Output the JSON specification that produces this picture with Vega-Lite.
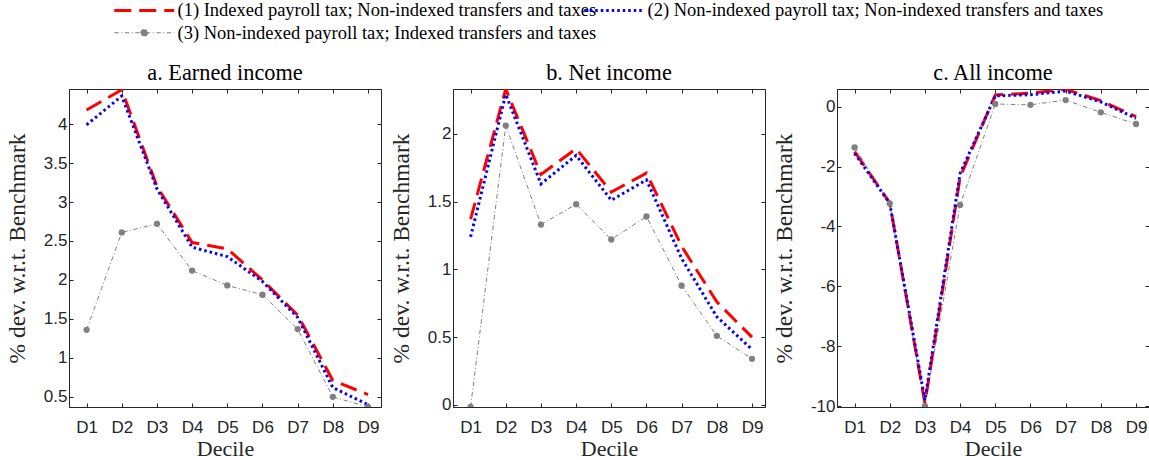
{
  "$schema": "https://vega.github.io/schema/vega-lite/v6.json",
  "padding": {"left": 4, "top": 1, "right": 1, "bottom": 2},
  "background": "white",
  "datasets": {
    "d": [
      {"p":"a","d":1,"s":"s1","v":4.18},{"p":"a","d":2,"s":"s1","v":4.44},{"p":"a","d":3,"s":"s1","v":3.20},{"p":"a","d":4,"s":"s1","v":2.48},{"p":"a","d":5,"s":"s1","v":2.40},{"p":"a","d":6,"s":"s1","v":2.00},{"p":"a","d":7,"s":"s1","v":1.55},{"p":"a","d":8,"s":"s1","v":0.71},{"p":"a","d":9,"s":"s1","v":0.53},
      {"p":"a","d":1,"s":"s2","v":3.99},{"p":"a","d":2,"s":"s2","v":4.36},{"p":"a","d":3,"s":"s2","v":3.17},{"p":"a","d":4,"s":"s2","v":2.42},{"p":"a","d":5,"s":"s2","v":2.30},{"p":"a","d":6,"s":"s2","v":1.98},{"p":"a","d":7,"s":"s2","v":1.52},{"p":"a","d":8,"s":"s2","v":0.62},{"p":"a","d":9,"s":"s2","v":0.40},
      {"p":"a","d":1,"s":"s3","v":1.36},{"p":"a","d":2,"s":"s3","v":2.61},{"p":"a","d":3,"s":"s3","v":2.72},{"p":"a","d":4,"s":"s3","v":2.12},{"p":"a","d":5,"s":"s3","v":1.93},{"p":"a","d":6,"s":"s3","v":1.81},{"p":"a","d":7,"s":"s3","v":1.37},{"p":"a","d":8,"s":"s3","v":0.50},{"p":"a","d":9,"s":"s3","v":0.37},
      {"p":"b","d":1,"s":"s1","v":1.37},{"p":"b","d":2,"s":"s1","v":2.33},{"p":"b","d":3,"s":"s1","v":1.70},{"p":"b","d":4,"s":"s1","v":1.89},{"p":"b","d":5,"s":"s1","v":1.57},{"p":"b","d":6,"s":"s1","v":1.71},{"p":"b","d":7,"s":"s1","v":1.17},{"p":"b","d":8,"s":"s1","v":0.76},{"p":"b","d":9,"s":"s1","v":0.50},
      {"p":"b","d":1,"s":"s2","v":1.24},{"p":"b","d":2,"s":"s2","v":2.29},{"p":"b","d":3,"s":"s2","v":1.63},{"p":"b","d":4,"s":"s2","v":1.84},{"p":"b","d":5,"s":"s2","v":1.51},{"p":"b","d":6,"s":"s2","v":1.66},{"p":"b","d":7,"s":"s2","v":1.08},{"p":"b","d":8,"s":"s2","v":0.65},{"p":"b","d":9,"s":"s2","v":0.41},
      {"p":"b","d":1,"s":"s3","v":-0.015},{"p":"b","d":2,"s":"s3","v":2.06},{"p":"b","d":3,"s":"s3","v":1.33},{"p":"b","d":4,"s":"s3","v":1.48},{"p":"b","d":5,"s":"s3","v":1.22},{"p":"b","d":6,"s":"s3","v":1.39},{"p":"b","d":7,"s":"s3","v":0.88},{"p":"b","d":8,"s":"s3","v":0.51},{"p":"b","d":9,"s":"s3","v":0.34},
      {"p":"c","d":1,"s":"s1","v":-1.50},{"p":"c","d":2,"s":"s1","v":-3.21},{"p":"c","d":3,"s":"s1","v":-9.91},{"p":"c","d":4,"s":"s1","v":-2.35},{"p":"c","d":5,"s":"s1","v":0.39},{"p":"c","d":6,"s":"s1","v":0.45},{"p":"c","d":7,"s":"s1","v":0.58},{"p":"c","d":8,"s":"s1","v":0.20},{"p":"c","d":9,"s":"s1","v":-0.33},
      {"p":"c","d":1,"s":"s2","v":-1.56},{"p":"c","d":2,"s":"s2","v":-3.23},{"p":"c","d":3,"s":"s2","v":-9.80},{"p":"c","d":4,"s":"s2","v":-2.23},{"p":"c","d":5,"s":"s2","v":0.36},{"p":"c","d":6,"s":"s2","v":0.40},{"p":"c","d":7,"s":"s2","v":0.52},{"p":"c","d":8,"s":"s2","v":0.16},{"p":"c","d":9,"s":"s2","v":-0.39},
      {"p":"c","d":1,"s":"s3","v":-1.36},{"p":"c","d":2,"s":"s3","v":-3.23},{"p":"c","d":3,"s":"s3","v":-10.0},{"p":"c","d":4,"s":"s3","v":-3.28},{"p":"c","d":5,"s":"s3","v":0.09},{"p":"c","d":6,"s":"s3","v":0.06},{"p":"c","d":7,"s":"s3","v":0.22},{"p":"c","d":8,"s":"s3","v":-0.19},{"p":"c","d":9,"s":"s3","v":-0.58}
    ]
  },
  "data": {"name": "d"},
  "spacing": 72,
  "bounds": "flush",
  "hconcat": [
    {
      "width": 312, "height": 318,
      "title": "a. Earned income",
      "transform": [{"filter": "datum.p == 'a'"}],
      "layer": [
        {
          "encoding": {
            "x": {"field": "d", "type": "quantitative", "scale": {"domain": [0.5, 9.37], "nice": false, "zero": false}, "axis": {"values": [1,2,3,4,5,6,7,8,9], "labelExpr": "'D' + datum.value", "title": "Decile"}},
            "y": {"field": "v", "type": "quantitative", "scale": {"domain": [0.37, 4.45], "nice": false, "zero": false}, "axis": {"values": [0.5,1,1.5,2,2.5,3,3.5,4], "labelExpr": "datum.value + ''", "title": "% dev. w.r.t. Benchmark"}},
            "color": {"field": "s", "type": "nominal", "scale": {"domain": ["s1","s2","s3"], "range": ["#ff0000","#0000ff","#808080"]}, "legend": {"orient": "none", "legendX": 66, "legendY": -88, "columns": 2, "direction": "horizontal", "title": null, "labelExpr": "datum.value == 's1' ? '(1) Indexed payroll tax; Non-indexed transfers and taxes' : datum.value == 's2' ? '(2) Non-indexed payroll tax; Non-indexed transfers and taxes' : '(3) Non-indexed payroll tax; Indexed transfers and taxes'", "encode": {"symbols": {"update": {"shape": {"signal": "datum.value == 's3' ? 'M-6,0H6M0.7,0A0.7,0.7,0,1,1,-0.7,0A0.7,0.7,0,1,1,0.7,0Z' : 'M-6,0H6'"}, "strokeWidth": {"signal": "datum.value == 's3' ? 1 : 3"}, "fill": {"signal": "datum.value == 's3' ? '#808080' : 'transparent'"}}}}}},
            "strokeDash": {"field": "s", "type": "nominal", "scale": {"domain": ["s1","s2","s3"], "range": [[17,8],[2.5,3],[4.5,2.5,1,2.5]]}}
          },
          "layer": [
            {"transform": [{"filter": "datum.s == 's3'"}], "mark": {"type": "line", "clip": true, "strokeWidth": 1}},
            {"transform": [{"filter": "datum.s == 's1'"}], "mark": {"type": "line", "clip": true, "strokeWidth": 3}},
            {"transform": [{"filter": "datum.s == 's2'"}], "mark": {"type": "line", "clip": true, "strokeWidth": 3}}
          ]
        },
        {
          "transform": [{"filter": "datum.s == 's3'"}],
          "mark": {"type": "point", "filled": true, "color": "#808080", "opacity": 1, "size": 40, "clip": true},
          "encoding": {
            "x": {"field": "d", "type": "quantitative", "scale": {"domain": [0.5, 9.37], "nice": false, "zero": false}, "axis": {"orient": "top", "values": [1,2,3,4,5,6,7,8,9], "labels": false, "title": null, "domain": false}},
            "y": {"field": "v", "type": "quantitative", "scale": {"domain": [0.37, 4.45], "nice": false, "zero": false}, "axis": {"orient": "right", "values": [0.5,1,1.5,2,2.5,3,3.5,4], "labels": false, "title": null, "domain": false}}
          }
        }
      ],
      "resolve": {"axis": {"x": "independent", "y": "independent"}}
    },
    {
      "width": 312, "height": 318,
      "title": "b. Net income",
      "transform": [{"filter": "datum.p == 'b'"}],
      "layer": [
        {
          "encoding": {
            "x": {"field": "d", "type": "quantitative", "scale": {"domain": [0.5, 9.37], "nice": false, "zero": false}, "axis": {"values": [1,2,3,4,5,6,7,8,9], "labelExpr": "'D' + datum.value", "title": "Decile"}},
            "y": {"field": "v", "type": "quantitative", "scale": {"domain": [-0.015, 2.33], "nice": false, "zero": false}, "axis": {"values": [0,0.5,1,1.5,2], "labelExpr": "datum.value + ''", "title": "% dev. w.r.t. Benchmark"}},
            "color": {"field": "s", "type": "nominal", "scale": {"domain": ["s1","s2","s3"], "range": ["#ff0000","#0000ff","#808080"]}, "legend": {"orient": "none", "legendX": 66, "legendY": -88, "columns": 2, "direction": "horizontal", "title": null, "labelExpr": "datum.value == 's1' ? '(1) Indexed payroll tax; Non-indexed transfers and taxes' : datum.value == 's2' ? '(2) Non-indexed payroll tax; Non-indexed transfers and taxes' : '(3) Non-indexed payroll tax; Indexed transfers and taxes'", "encode": {"symbols": {"update": {"shape": {"signal": "datum.value == 's3' ? 'M-6,0H6M0.7,0A0.7,0.7,0,1,1,-0.7,0A0.7,0.7,0,1,1,0.7,0Z' : 'M-6,0H6'"}, "strokeWidth": {"signal": "datum.value == 's3' ? 1 : 3"}, "fill": {"signal": "datum.value == 's3' ? '#808080' : 'transparent'"}}}}}},
            "strokeDash": {"field": "s", "type": "nominal", "scale": {"domain": ["s1","s2","s3"], "range": [[17,8],[2.5,3],[4.5,2.5,1,2.5]]}}
          },
          "layer": [
            {"transform": [{"filter": "datum.s == 's3'"}], "mark": {"type": "line", "clip": true, "strokeWidth": 1}},
            {"transform": [{"filter": "datum.s == 's1'"}], "mark": {"type": "line", "clip": true, "strokeWidth": 3}},
            {"transform": [{"filter": "datum.s == 's2'"}], "mark": {"type": "line", "clip": true, "strokeWidth": 3}}
          ]
        },
        {
          "transform": [{"filter": "datum.s == 's3'"}],
          "mark": {"type": "point", "filled": true, "color": "#808080", "opacity": 1, "size": 40, "clip": true},
          "encoding": {
            "x": {"field": "d", "type": "quantitative", "scale": {"domain": [0.5, 9.37], "nice": false, "zero": false}, "axis": {"orient": "top", "values": [1,2,3,4,5,6,7,8,9], "labels": false, "title": null, "domain": false}},
            "y": {"field": "v", "type": "quantitative", "scale": {"domain": [-0.015, 2.33], "nice": false, "zero": false}, "axis": {"orient": "right", "values": [0,0.5,1,1.5,2], "labels": false, "title": null, "domain": false}}
          }
        }
      ],
      "resolve": {"axis": {"x": "independent", "y": "independent"}}
    },
    {
      "width": 312, "height": 318,
      "title": "c. All income",
      "transform": [{"filter": "datum.p == 'c'"}],
      "layer": [
        {
          "encoding": {
            "x": {"field": "d", "type": "quantitative", "scale": {"domain": [0.5, 9.37], "nice": false, "zero": false}, "axis": {"values": [1,2,3,4,5,6,7,8,9], "labelExpr": "'D' + datum.value", "title": "Decile"}},
            "y": {"field": "v", "type": "quantitative", "scale": {"domain": [-10.03, 0.59], "nice": false, "zero": false}, "axis": {"values": [-10,-8,-6,-4,-2,0], "labelExpr": "datum.value + ''", "title": "% dev. w.r.t. Benchmark"}},
            "color": {"field": "s", "type": "nominal", "scale": {"domain": ["s1","s2","s3"], "range": ["#ff0000","#0000ff","#808080"]}, "legend": {"orient": "none", "legendX": 66, "legendY": -88, "columns": 2, "direction": "horizontal", "title": null, "labelExpr": "datum.value == 's1' ? '(1) Indexed payroll tax; Non-indexed transfers and taxes' : datum.value == 's2' ? '(2) Non-indexed payroll tax; Non-indexed transfers and taxes' : '(3) Non-indexed payroll tax; Indexed transfers and taxes'", "encode": {"symbols": {"update": {"shape": {"signal": "datum.value == 's3' ? 'M-6,0H6M0.7,0A0.7,0.7,0,1,1,-0.7,0A0.7,0.7,0,1,1,0.7,0Z' : 'M-6,0H6'"}, "strokeWidth": {"signal": "datum.value == 's3' ? 1 : 3"}, "fill": {"signal": "datum.value == 's3' ? '#808080' : 'transparent'"}}}}}},
            "strokeDash": {"field": "s", "type": "nominal", "scale": {"domain": ["s1","s2","s3"], "range": [[17,8],[2.5,3],[4.5,2.5,1,2.5]]}}
          },
          "layer": [
            {"transform": [{"filter": "datum.s == 's3'"}], "mark": {"type": "line", "clip": true, "strokeWidth": 1}},
            {"transform": [{"filter": "datum.s == 's1'"}], "mark": {"type": "line", "clip": true, "strokeWidth": 3}},
            {"transform": [{"filter": "datum.s == 's2'"}], "mark": {"type": "line", "clip": true, "strokeWidth": 3}}
          ]
        },
        {
          "transform": [{"filter": "datum.s == 's3'"}],
          "mark": {"type": "point", "filled": true, "color": "#808080", "opacity": 1, "size": 40, "clip": true},
          "encoding": {
            "x": {"field": "d", "type": "quantitative", "scale": {"domain": [0.5, 9.37], "nice": false, "zero": false}, "axis": {"orient": "top", "values": [1,2,3,4,5,6,7,8,9], "labels": false, "title": null, "domain": false}},
            "y": {"field": "v", "type": "quantitative", "scale": {"domain": [-10.03, 0.59], "nice": false, "zero": false}, "axis": {"orient": "right", "values": [-10,-8,-6,-4,-2,0], "labels": false, "title": null, "domain": false}}
          }
        }
      ],
      "resolve": {"axis": {"x": "independent", "y": "independent"}}
    }
  ],
  "config": {
    "view": {"stroke": "#262626", "strokeWidth": 1},
    "axis": {"grid": false, "domainColor": "#262626", "tickColor": "#262626", "labelColor": "#262626", "labelFont": "Liberation Sans", "labelFontSize": 17, "titleFont": "Liberation Serif", "titleFontSize": 22, "titleFontWeight": "normal", "titleColor": "#262626", "tickSize": -4},
    "axisX": {"labelPadding": 16, "titlePadding": 3},
    "axisY": {"labelPadding": 6, "titlePadding": 14, "titleFontSize": 23.5},
    "title": {"font": "Liberation Serif", "fontSize": 22.3, "fontWeight": "normal", "color": "#000000", "offset": 4},
    "legend": {"labelFont": "Liberation Serif", "labelFontSize": 18.5, "labelColor": "#000000", "labelLimit": 0, "symbolType": "M-6,0H6", "symbolSize": 100, "columnPadding": -19, "rowPadding": 3.5, "labelOffset": 24}
  }
}
